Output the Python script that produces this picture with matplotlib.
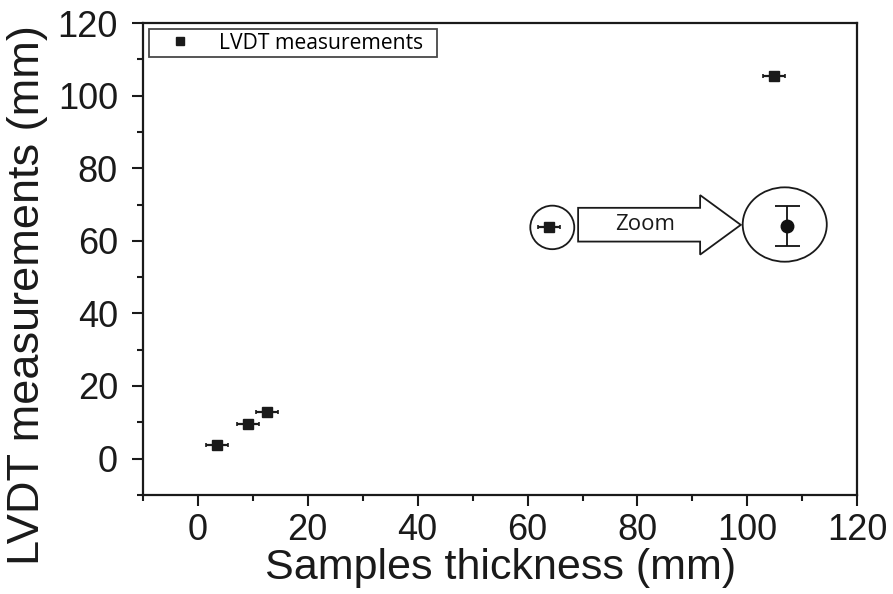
import numpy as np
import matplotlib.pyplot as plt
from matplotlib.patches import Ellipse, Polygon
from matplotlib.lines import Line2D
from matplotlib.ticker import MultipleLocator

# sample thickness (mm) vs LVDT reading (mm)
thickness = [3.4, 9.2, 12.6, 63.9, 104.8]
lvdt = [3.8, 9.6, 12.9, 63.8, 105.4]
thickness_err = [2.0, 2.0, 2.0, 2.0, 2.0]

plt.rcParams['font.family'] = ['Liberation Sans', 'DejaVu Sans']

fig = plt.figure(figsize=(8.93, 5.94), dpi=100)
ax = fig.add_axes([0.160, 0.167, 0.800, 0.794])

ax.errorbar(thickness, lvdt, xerr=thickness_err, fmt='s', color='#1a1a1a',
            ms=6.5, elinewidth=1.6, capsize=1.5, capthick=1.2)

ax.set_xlim(-10, 120)
ax.set_ylim(-10, 120)
ax.xaxis.set_major_locator(MultipleLocator(20))
ax.xaxis.set_minor_locator(MultipleLocator(10))
ax.yaxis.set_major_locator(MultipleLocator(20))
ax.yaxis.set_minor_locator(MultipleLocator(10))
ax.tick_params(which='both', direction='out', width=1.5, labelsize=26, colors='#1a1a1a')
ax.tick_params(which='major', length=8, pad=5)
ax.tick_params(axis='y', which='major', pad=10)
ax.tick_params(which='minor', length=4)
for s in ax.spines.values():
    s.set_linewidth(1.6)
    s.set_color('#1a1a1a')

ax.set_xlabel('Samples thickness (mm)', fontsize=31, color='#1a1a1a', labelpad=0)
ax.set_ylabel('LVDT measurements (mm)', fontsize=32.5, color='#1a1a1a')
ax.yaxis.set_label_coords(-0.133, 0.424)

proxy = Line2D([], [], ls='none', marker='s', ms=6, color='#1a1a1a')
leg = ax.legend([proxy], ['LVDT measurements\u00a0\u00a0'], loc='upper left',
                prop={'family': 'Open Sans', 'size': 15.2},
                frameon=True, fancybox=False, edgecolor='#1a1a1a',
                borderaxespad=0.3, handlelength=2.6, handletextpad=0.55,
                borderpad=0.15)
leg.get_frame().set_linewidth(1.3)

# zoom illustration
ax.add_patch(Ellipse((64.5, 63.7), 8, 12, fill=False, lw=1.3, ec='#1a1a1a'))
arrow = [(69.2, 69.1), (91.4, 69.1), (91.4, 72.6), (98.8, 64.4),
         (91.4, 56.2), (91.4, 59.8), (69.2, 59.8)]
ax.add_patch(Polygon(arrow, closed=True, fill=False, lw=1.3, ec='#1a1a1a'))
ax.text(81.4, 64.6, 'Zoom', ha='center', va='center', fontsize=16,
        family='Open Sans', color='#1a1a1a')
ax.add_patch(Ellipse((106.8, 64.5), 15.3, 20.5, fill=False, lw=1.3, ec='#1a1a1a'))
ax.errorbar([107.2], [64.0], yerr=[5.5], fmt='o', color='#111111', ms=9,
            elinewidth=1.3, capsize=9, capthick=1.3)

fig.savefig('out.png', dpi=100)
